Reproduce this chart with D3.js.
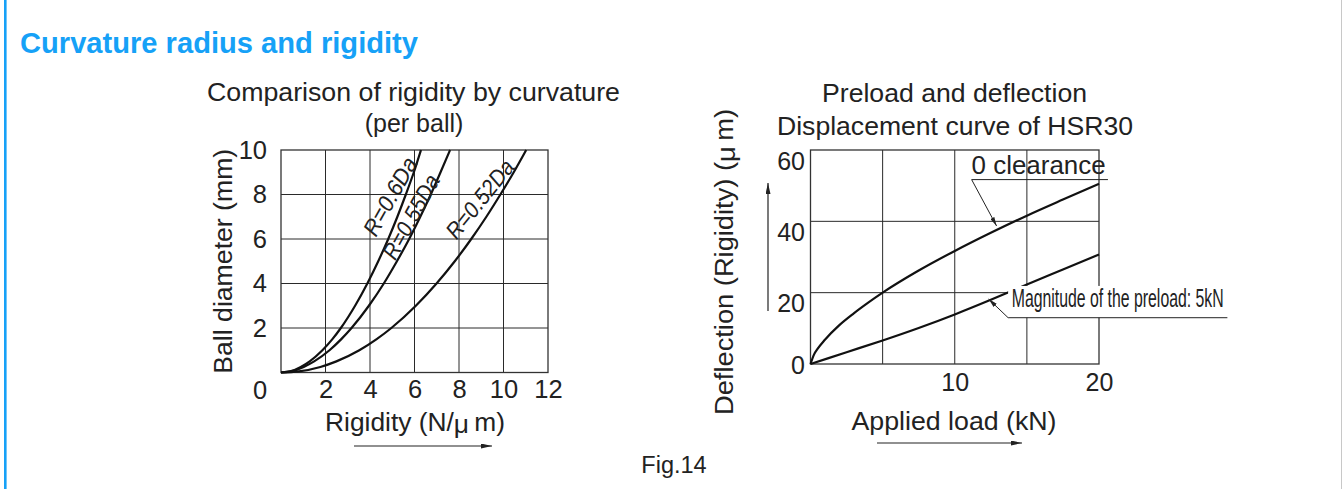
<!DOCTYPE html>
<html>
<head>
<meta charset="utf-8">
<script src="https://cdn.jsdelivr.net/npm/d3@7"></script>
<style>
  html, body { margin: 0; padding: 0; background: #fff; }
  svg { display: block; }
  text { font-family: "Liberation Sans", Arial, Helvetica, sans-serif; fill: #222; }
</style>
</head>
<body>
<svg id="chart" width="1343" height="489"></svg>
<script>
// ---------------- DATA ----------------
const pageTitle = "Curvature radius and rigidity";
const figLabel = "Fig.14";

// Left chart: rigidity (N/µm) vs ball diameter (mm)
const leftTitle = ["Comparison of rigidity by curvature", "(per ball)"];
const leftXLabel = "Rigidity (N/";
const leftYLabel = "Ball diameter (mm)";
const leftXTicks = [2, 4, 6, 8, 10, 12];
const leftYTicks = [2, 4, 6, 8, 10];
const leftGridX = [2, 4, 6, 8, 10];
const leftGridY = [2, 4, 6, 8];
const curveNames = ["R=0.6Da", "R=0.55Da", "R=0.52Da"];
// [rigidity, diameter]
const r060 = [[0,0],[0.45,0.06],[0.89,0.25],[1.29,0.5],[1.86,1],[2.31,1.5],[2.69,2],[3.33,3],[3.88,4],[4.37,5],[4.82,6],[5.23,7],[5.61,8],[5.97,9],[6.29,10]];
const r055 = [[0,0],[0.5,0.06],[1.02,0.25],[1.49,0.5],[2.18,1],[2.71,1.5],[3.17,2],[3.95,3],[4.62,4],[5.21,5],[5.76,6],[6.26,7],[6.73,8],[7.17,9],[7.6,10]];
const r052 = [[0,0],[0.8,0.05],[1.77,0.25],[2.49,0.5],[3.52,1],[4.3,1.5],[4.96,2],[6.06,3],[6.99,4],[7.81,5],[8.55,6],[9.23,7],[9.86,8],[10.46,9],[11.02,10]];

// Right chart: applied load (kN) vs deflection (µm)
const rightTitle = ["Preload and deflection", "Displacement curve of HSR30"];
const rightXLabel = "Applied load (kN)";
const rightYLabel = "Deflection (Rigidity) (";
const rightXTicks = [10, 20];
const rightYTicks = [20, 40, 60];
const rightGridX = [5, 10, 15];
const rightGridY = [20, 40];
const seriesNames = ["0 clearance", "Magnitude of the preload: 5kN"];
const zeroClearance = [[0,0],[0.25,2.7],[0.5,4.3],[1,6.8],[2,10.9],[3,14.2],[4,17.2],[5,20],[7.5,26.2],[10,31.7],[12.5,36.8],[15,41.6],[17.5,46.1],[20,50.5]];
const preload5kN = [[0,0],[2.5,3.3],[5,6.6],[7.5,10.1],[10,13.9],[12.5,18],[15,22.3],[17.5,26.5],[20,30.7]];

// ---------------- DRAW ----------------
const svg = d3.select("#chart");
const BLUE = "#16a1f7";

svg.append("rect").attr("x", 4).attr("y", 0).attr("width", 2.6).attr("height", 489).attr("fill", BLUE);

svg.append("text").text(pageTitle)
  .attr("x", 20).attr("y", 52.5)
  .attr("textLength", 398).attr("lengthAdjust", "spacingAndGlyphs")
  .style("font-size", "29px").style("font-weight", "bold").style("fill", BLUE);

const defs = svg.append("defs");
function marker(id, w, h) {
  defs.append("marker").attr("id", id)
    .attr("viewBox", `0 0 ${w} ${h}`).attr("refX", w).attr("refY", h / 2)
    .attr("markerWidth", w).attr("markerHeight", h)
    .attr("markerUnits", "userSpaceOnUse").attr("orient", "auto")
    .append("path").attr("d", `M0,0L${w},${h/2}L0,${h}Z`).attr("fill", "#222");
}
marker("bigArrow", 11, 5);
marker("smallArrow", 9, 4.5);

// ---------- LEFT CHART ----------
const lx = d3.scaleLinear().domain([0, 12]).range([281, 548]);
const ly = d3.scaleLinear().domain([0, 10]).range([372.5, 150]);
const gL = svg.append("g");

gL.selectAll(".gx").data(leftGridX).join("line")
  .attr("x1", d => lx(d)).attr("x2", d => lx(d)).attr("y1", ly(0)).attr("y2", ly(10))
  .attr("stroke", "#2a2a2a").attr("stroke-width", 1);
gL.selectAll(".gy").data(leftGridY).join("line")
  .attr("y1", d => ly(d)).attr("y2", d => ly(d)).attr("x1", lx(0)).attr("x2", lx(12))
  .attr("stroke", "#2a2a2a").attr("stroke-width", 1);
gL.append("rect").attr("x", lx(0)).attr("y", ly(10))
  .attr("width", lx(12) - lx(0)).attr("height", ly(0) - ly(10))
  .attr("fill", "none").attr("stroke", "#333").attr("stroke-width", 1.3);

const lineL = d3.line().x(d => lx(d[0])).y(d => ly(d[1])).curve(d3.curveMonotoneX);
[r060, r055, r052].forEach(s => {
  gL.append("path").attr("d", lineL(s)).attr("fill", "none")
    .attr("stroke", "#111").attr("stroke-width", 2.2);
});

const axL = gL.append("g").attr("transform", `translate(0,${ly(0)})`)
  .call(d3.axisBottom(lx).tickValues(leftXTicks).tickSize(0).tickPadding(7.5));
const ayL = gL.append("g").attr("transform", `translate(${lx(0)},0)`)
  .call(d3.axisLeft(ly).tickValues(leftYTicks).tickSize(0).tickPadding(14));
[axL, ayL].forEach(a => {
  a.select(".domain").remove();
  a.selectAll("text").style("font-size", "25.5px").style("font-family", "Liberation Sans, Arial, sans-serif").attr("fill", "#222");
});
gL.append("text").text("0").attr("x", lx(0) - 21).attr("y", 398.5)
  .attr("text-anchor", "middle").style("font-size", "25.5px");

// curve labels
const curveLabelPos = [
  { name: curveNames[0], x: 4.90, y: 7.92, a: -60.6, len: 86 },
  { name: curveNames[1], x: 5.84, y: 7.0, a: -60.9, len: 93 },
  { name: curveNames[2], x: 8.94, y: 7.8, a: -51, len: 94 }
];
gL.selectAll(".clab").data(curveLabelPos).join("text")
  .attr("transform", d => `translate(${lx(d.x)},${ly(d.y)}) rotate(${d.a})`)
  .attr("text-anchor", "middle").attr("dy", "0.35em")
  .attr("textLength", d => d.len).attr("lengthAdjust", "spacingAndGlyphs")
  .style("font-size", "23px").style("font-style", "italic")
  .text(d => d.name);

gL.append("text").text(leftTitle[0]).attr("x", 413.5).attr("y", 101)
  .attr("text-anchor", "middle").attr("textLength", 413).attr("lengthAdjust", "spacingAndGlyphs")
  .style("font-size", "25px");
gL.append("text").text(leftTitle[1]).attr("x", 414).attr("y", 132)
  .attr("text-anchor", "middle").style("font-size", "25px");

gL.append("text").attr("transform", `translate(232,${(ly(0) + ly(10)) / 2}) rotate(-90)`)
  .attr("text-anchor", "middle").attr("textLength", 225).attr("lengthAdjust", "spacingAndGlyphs")
  .style("font-size", "25px").text(leftYLabel);

const xlabL = gL.append("text").attr("x", 415).attr("y", 431)
  .attr("text-anchor", "middle").attr("textLength", 180).attr("lengthAdjust", "spacingAndGlyphs")
  .style("font-size", "25px");
xlabL.append("tspan").text(leftXLabel);
xlabL.append("tspan").text("\u03bc").attr("dy", 2);
xlabL.append("tspan").text("\u2009m)").attr("dy", -2);

gL.append("line").attr("x1", 354).attr("x2", 492).attr("y1", 446).attr("y2", 446)
  .attr("stroke", "#222").attr("stroke-width", 1.2).attr("marker-end", "url(#bigArrow)");

// ---------- RIGHT CHART ----------
const rx = d3.scaleLinear().domain([0, 20]).range([810.5, 1099]);
const ry = d3.scaleLinear().domain([0, 60]).range([364, 150]);
const gR = svg.append("g");

gR.selectAll(".gx").data(rightGridX).join("line")
  .attr("x1", d => rx(d)).attr("x2", d => rx(d)).attr("y1", ry(0)).attr("y2", ry(60))
  .attr("stroke", "#2a2a2a").attr("stroke-width", 1);
gR.selectAll(".gy").data(rightGridY).join("line")
  .attr("y1", d => ry(d)).attr("y2", d => ry(d)).attr("x1", rx(0)).attr("x2", rx(20))
  .attr("stroke", "#2a2a2a").attr("stroke-width", 1);
gR.append("rect").attr("x", rx(0)).attr("y", ry(60))
  .attr("width", rx(20) - rx(0)).attr("height", ry(0) - ry(60))
  .attr("fill", "none").attr("stroke", "#333").attr("stroke-width", 1.3);

const lineR = d3.line().x(d => rx(d[0])).y(d => ry(d[1])).curve(d3.curveMonotoneX);
[zeroClearance, preload5kN].forEach(s => {
  gR.append("path").attr("d", lineR(s)).attr("fill", "none")
    .attr("stroke", "#111").attr("stroke-width", 2.2);
});

const axR = gR.append("g").attr("transform", `translate(0,${ry(0)})`)
  .call(d3.axisBottom(rx).tickValues(rightXTicks).tickSize(0).tickPadding(9));
const ayR = gR.append("g").attr("transform", `translate(${rx(0)},0)`)
  .call(d3.axisLeft(ry).tickValues(rightYTicks).tickSize(0).tickPadding(5.5));
[axR, ayR].forEach(a => {
  a.select(".domain").remove();
  a.selectAll("text").style("font-size", "25px").style("font-family", "Liberation Sans, Arial, sans-serif").attr("fill", "#222");
});
ayR.selectAll("text").attr("dy", "0.76em");
gR.append("text").text("0").attr("x", rx(0) - 5.5).attr("y", 374)
  .attr("text-anchor", "end").style("font-size", "25px");

gR.append("text").text(rightTitle[0]).attr("x", 954.5).attr("y", 101.5)
  .attr("text-anchor", "middle").attr("textLength", 265).attr("lengthAdjust", "spacingAndGlyphs")
  .style("font-size", "25px");
gR.append("text").text(rightTitle[1]).attr("x", 955).attr("y", 135)
  .attr("text-anchor", "middle").attr("textLength", 356).attr("lengthAdjust", "spacingAndGlyphs")
  .style("font-size", "25px");

const ylabR = gR.append("text").attr("transform", `translate(733,262) rotate(-90)`)
  .attr("text-anchor", "middle").attr("textLength", 306).attr("lengthAdjust", "spacingAndGlyphs")
  .style("font-size", "25px");
ylabR.append("tspan").text(rightYLabel);
ylabR.append("tspan").text("\u03bc").attr("dy", 2);
ylabR.append("tspan").text("\u2009m)").attr("dy", -2);

gR.append("line").attr("x1", 768).attr("x2", 768).attr("y1", 311).attr("y2", 183)
  .attr("stroke", "#222").attr("stroke-width", 1.2).attr("marker-end", "url(#bigArrow)");

gR.append("text").text(rightXLabel).attr("x", 954).attr("y", 429.5)
  .attr("text-anchor", "middle").attr("textLength", 205).attr("lengthAdjust", "spacingAndGlyphs")
  .style("font-size", "25px");
gR.append("line").attr("x1", 877).attr("x2", 1022).attr("y1", 443).attr("y2", 443)
  .attr("stroke", "#222").attr("stroke-width", 1.2).attr("marker-end", "url(#bigArrow)");

// annotations (data coordinates)
const ann0 = { textX: 11.17, textY: 53.4, ulX2: 20.62, tipX: 12.9, tipY: 38.7, ulY: 51.7 };
gR.append("text").text(seriesNames[0]).attr("x", rx(ann0.textX)).attr("y", ry(ann0.textY))
  .attr("textLength", 134).attr("lengthAdjust", "spacingAndGlyphs").style("font-size", "25px");
gR.append("line").attr("x1", rx(ann0.textX)).attr("x2", rx(ann0.ulX2))
  .attr("y1", ry(ann0.ulY)).attr("y2", ry(ann0.ulY)).attr("stroke", "#222").attr("stroke-width", 1);
gR.append("line").attr("x1", rx(ann0.textX)).attr("y1", ry(ann0.ulY))
  .attr("x2", rx(ann0.tipX)).attr("y2", ry(ann0.tipY))
  .attr("stroke", "#222").attr("stroke-width", 1).attr("marker-end", "url(#smallArrow)");

const ann1 = { textX: 13.95, textY: 16.0, ulX1: 13.7, ulX2: 28.9, ulY: 12.98, tipX: 12.35, tipY: 18.2 };
gR.append("rect").attr("x", rx(ann1.ulX1)).attr("y", ry(ann1.textY) - 21)
  .attr("width", rx(ann1.ulX2) - rx(ann1.ulX1)).attr("height", ry(ann1.ulY) - ry(ann1.textY) + 21)
  .attr("fill", "#fff");
// condensed label: horizontally scaled to the reference width
const magText = gR.append("text").text(seriesNames[1])
  .style("font-size", "25.5px").style("font-family", "'Liberation Sans', Arial, sans-serif");
const natural = magText.node().getComputedTextLength();
magText.attr("transform", `translate(${rx(ann1.textX)},${ry(ann1.textY)}) scale(${212 / natural},1)`);
gR.append("line").attr("x1", rx(ann1.ulX1)).attr("x2", rx(ann1.ulX2))
  .attr("y1", ry(ann1.ulY)).attr("y2", ry(ann1.ulY)).attr("stroke", "#222").attr("stroke-width", 1);
gR.append("line").attr("x1", rx(ann1.ulX1)).attr("y1", ry(ann1.ulY))
  .attr("x2", rx(ann1.tipX)).attr("y2", ry(ann1.tipY))
  .attr("stroke", "#222").attr("stroke-width", 1).attr("marker-end", "url(#smallArrow)");

svg.append("text").text(figLabel).attr("x", 674).attr("y", 472.5)
  .attr("text-anchor", "middle").style("font-size", "23.5px");

svg.append("line").attr("x1", 1341.5).attr("x2", 1341.5).attr("y1", 0).attr("y2", 489)
  .attr("stroke", "#c8c8c8").attr("stroke-width", 1);
</script>
</body>
</html>
